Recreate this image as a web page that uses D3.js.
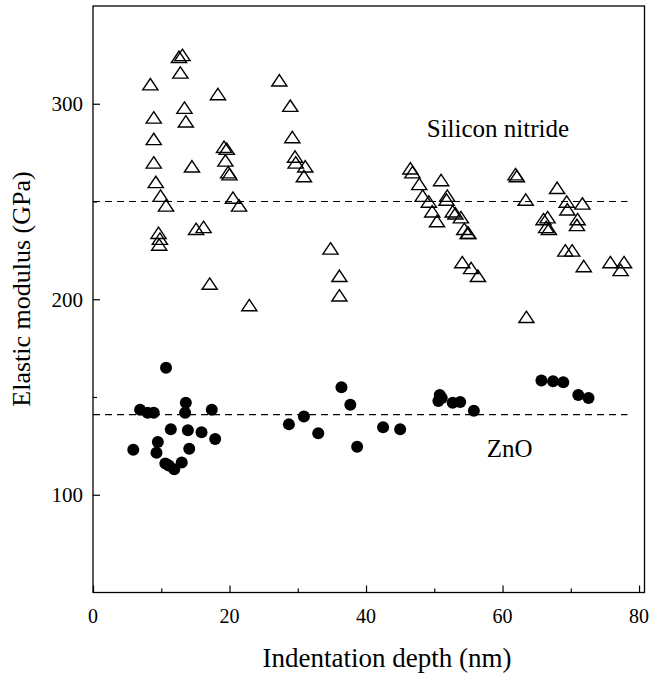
<!DOCTYPE html>
<html>
<head>
<meta charset="utf-8">
<script src="https://cdn.jsdelivr.net/npm/d3@7"></script>
<style>
  html, body { margin: 0; padding: 0; background: #fff; }
  svg text { font-family: "Liberation Serif", "Times New Roman", "DejaVu Serif", serif; fill: #000; }
</style>
</head>
<body>
<svg id="chart" width="652" height="674"></svg>
<script>
// ---- data ----
const siliconNitrideX = [8.4,8.9,8.9,8.9,9.2,9.9,10.7,9.6,9.8,9.7,
  12.6,13.1,12.8,13.4,13.6,14.5,15.1,16.2,18.3,17.1,
  19.2,19.6,19.4,19.8,20.0,20.5,21.4,22.9,
  27.3,28.9,29.2,29.6,29.7,31.1,30.9,
  34.8,36.1,36.1,
  46.5,46.8,47.8,48.3,49.2,49.7,50.4,51.0,51.9,51.8,52.7,53.1,53.9,54.4,54.9,55.0,54.1,55.4,56.4,
  61.9,62.1,63.4,63.5,66.0,66.6,66.4,66.8,68.0,69.4,69.5,69.2,70.2,71.0,70.9,71.7,71.9,75.8,77.8,77.3];
const siliconNitrideY = [310,293,282,270,260,253,248,234,231,228,
  324,325,316,298,291,268,236,237,305,208,
  278,277,271,265,264,252,248,197,
  312,299,283,273,270,268,263,
  226,212,202,
  267,265,259,253,250,245,240,261,253,251,245,244,242,236,234,234,219,216,212,
  264,263,251,191,241,242,237,236,257,250,246,225,225,241,238,249,217,219,219,215];

const znoX = [5.9,6.9,8.0,8.9,9.5,9.3,10.7,10.6,11.1,11.9,11.4,13.0,13.6,13.5,13.9,14.1,15.9,17.4,17.9,
  28.7,30.9,33.0,36.4,37.7,38.7,42.5,45.0,
  50.8,50.6,51.1,52.7,53.8,55.8,
  65.7,67.4,68.9,71.1,72.6];
const znoY = [123,143.5,142,142,127,121.5,165,116,115,113,133.5,116.5,147,142,133,123.5,132,143.5,128.5,
  136,140,131.5,155,146,124.5,134.5,133.5,
  151,148,149.5,147,147.5,143,
  158.5,158,157.5,151,149.5];

const siliconNitrideMean = 250;
const znoMean = 141;
const meanLineX = [0, 78.3];

const xMajorTicks = [0, 20, 40, 60, 80];
const xMinorTicks = [10, 30, 50, 70];
const yMajorTicks = [100, 200, 300];
const yMinorTicks = [150, 250];

const xLabel = "Indentation depth (nm)";
const yLabel = "Elastic modulus (GPa)";
const siliconLabel = "Silicon nitride";
const znoLabel = "ZnO";

// ---- layout ----
const svg = d3.select("#chart");
const pLeft = 93, pRight = 644.5, pTop = 6, pBottom = 592.5;

const x = d3.scaleLinear().domain([0, 80.8]).range([pLeft, pRight]);
const y = d3.scaleLinear().domain([50, 350]).range([pBottom, pTop]);

// frame
svg.append("rect")
  .attr("x", pLeft).attr("y", pTop)
  .attr("width", pRight - pLeft).attr("height", pBottom - pTop)
  .attr("fill", "none").attr("stroke", "#000").attr("stroke-width", 1.3);

// axes (ticks pointing inward)
function styleAxis(g) {
  g.select(".domain").remove();
  g.selectAll("line").attr("stroke", "#000").attr("stroke-width", 1.2);
}
svg.append("g").attr("transform", `translate(0,${pBottom})`)
  .call(d3.axisTop(x).tickValues(xMajorTicks).tickSize(7).tickFormat("")).call(styleAxis);
svg.append("g").attr("transform", `translate(0,${pBottom})`)
  .call(d3.axisTop(x).tickValues(xMinorTicks).tickSize(4).tickFormat("")).call(styleAxis);
svg.append("g").attr("transform", `translate(${pLeft},0)`)
  .call(d3.axisRight(y).tickValues(yMajorTicks).tickSize(7).tickFormat("")).call(styleAxis);
svg.append("g").attr("transform", `translate(${pLeft},0)`)
  .call(d3.axisRight(y).tickValues(yMinorTicks).tickSize(4).tickFormat("")).call(styleAxis);

// tick labels
svg.append("g").selectAll("text").data(xMajorTicks).join("text")
  .attr("x", d => x(d)).attr("y", 623)
  .attr("text-anchor", "middle").attr("font-size", 20)
  .text(d => d);
svg.append("g").selectAll("text").data(yMajorTicks).join("text")
  .attr("x", pLeft - 10).attr("y", d => y(d)).attr("dy", "0.35em")
  .attr("text-anchor", "end").attr("font-size", 21)
  .text(d => d);

// axis titles
svg.append("text")
  .attr("x", 387).attr("y", 667)
  .attr("text-anchor", "middle").attr("font-size", 27)
  .text(xLabel);
svg.append("text")
  .attr("transform", "translate(30,289) rotate(-90)")
  .attr("text-anchor", "middle").attr("font-size", 26)
  .text(yLabel);

// mean dashed lines
const meanLine = d3.line().x(d => x(d[0])).y(d => y(d[1]));
[siliconNitrideMean, znoMean].forEach(v => {
  svg.append("path")
    .attr("d", meanLine(meanLineX.map(t => [t, v])))
    .attr("fill", "none").attr("stroke", "#000").attr("stroke-width", 1.1)
    .attr("stroke-dasharray", "7,5");
});

// silicon nitride: open triangles
const triPath = "M0,-5.7L7.6,5.7L-7.6,5.7Z";
svg.append("g").selectAll("path").data(d3.range(siliconNitrideX.length)).join("path")
  .attr("transform", i => `translate(${x(siliconNitrideX[i])},${y(siliconNitrideY[i])})`)
  .attr("d", triPath)
  .attr("fill", "none")
  .attr("stroke", "#000").attr("stroke-width", 1.4).attr("stroke-linejoin", "miter");

// ZnO: filled circles
svg.append("g").selectAll("circle").data(d3.range(znoX.length)).join("circle")
  .attr("cx", i => x(znoX[i])).attr("cy", i => y(znoY[i])).attr("r", 6)
  .attr("fill", "#000");

// series labels
svg.append("text").attr("x", x(48.9)).attr("y", y(283)).attr("font-size", 25).text(siliconLabel);
svg.append("text").attr("x", x(57.7)).attr("y", y(119.5)).attr("font-size", 25).text(znoLabel);
</script>
</body>
</html>
